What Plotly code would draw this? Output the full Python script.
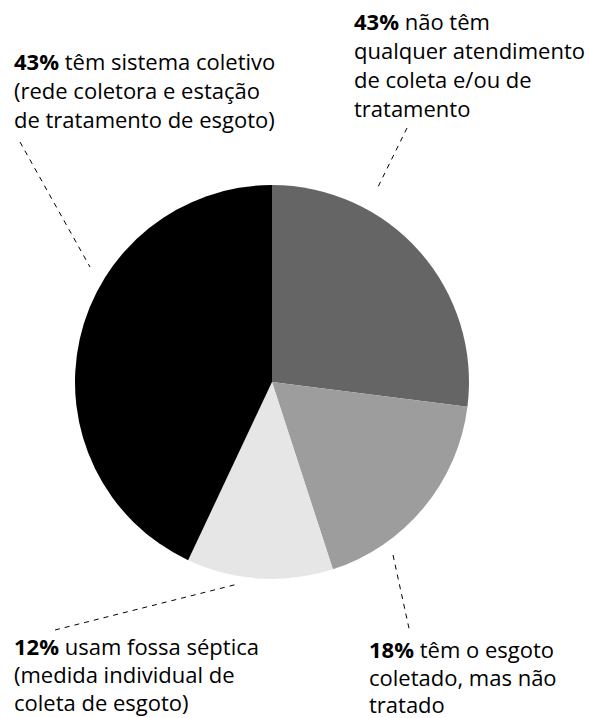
import plotly.graph_objects as go

W, H = 589, 718

# Data
categories = ["não têm atendimento", "coletado, não tratado", "fossa séptica", "sistema coletivo"]
values = [27, 18, 12, 43]
colors = ["#656565", "#9d9d9d", "#e6e6e6", "#000000"]

label_lines = {
    "tl": ["<b>43%</b> têm sistema coletivo", "(rede coletora e estação", "de tratamento de esgoto)"],
    "tr": ["<b>43%</b> não têm", "qualquer atendimento", "de coleta e/ou de", "tratamento"],
    "bl": ["<b>12%</b> usam fossa séptica", "(medida individual de", "coleta de esgoto)"],
    "br": ["<b>18%</b> têm o esgoto", "coletado, mas não", "tratado"],
}

# Layout positions (pixels): left x, first-line centre y, line gap
label_pos = {"tl": (12, 61, 29), "tr": (352, 21, 29), "bl": (12, 646, 28), "br": (367, 649, 27.5)}
leaders = [
    ((20, 142), (90, 267)),
    ((407, 128), (377, 189)),
    ((55, 630), (238, 584)),
    ((393, 555), (410, 633)),
]

px = lambda x: x / W
py = lambda y: 1 - y / H

cx, cy, r = 272, 382, 197

fig = go.Figure(go.Pie(
    labels=categories, values=values, sort=False, direction="clockwise", rotation=0,
    marker=dict(colors=colors, line=dict(width=0)),
    textinfo="none", hoverinfo="label+percent", showlegend=False,
    domain=dict(x=[px(cx - r), px(cx + r)], y=[py(cy + r), py(cy - r)]),
))

annotations = []
for key, lines in label_lines.items():
    x0, y0, gap = label_pos[key]
    for i, t in enumerate(lines):
        annotations.append(dict(
            x=px(x0), y=py(y0 + i * gap), xref="paper", yref="paper",
            text=t, showarrow=False, xanchor="left", yanchor="middle",
            font=dict(family="Open Sans", size=22, color="#000000"),
        ))

shapes = []
for (x0, y0), (x1, y1) in leaders:
    shapes.append(dict(type="line", xref="paper", yref="paper",
                       x0=px(x0), y0=py(y0), x1=px(x1), y1=py(y1),
                       line=dict(color="#000000", width=1, dash="5px,5px")))

fig.update_layout(
    width=W, height=H, margin=dict(l=0, r=0, t=0, b=0),
    paper_bgcolor="white", plot_bgcolor="white",
    annotations=annotations, shapes=shapes,
)

fig.write_html("out.html", config={"displayModeBar": False},
               post_script="document.body.style.margin='0';document.body.style.overflow='hidden';")
